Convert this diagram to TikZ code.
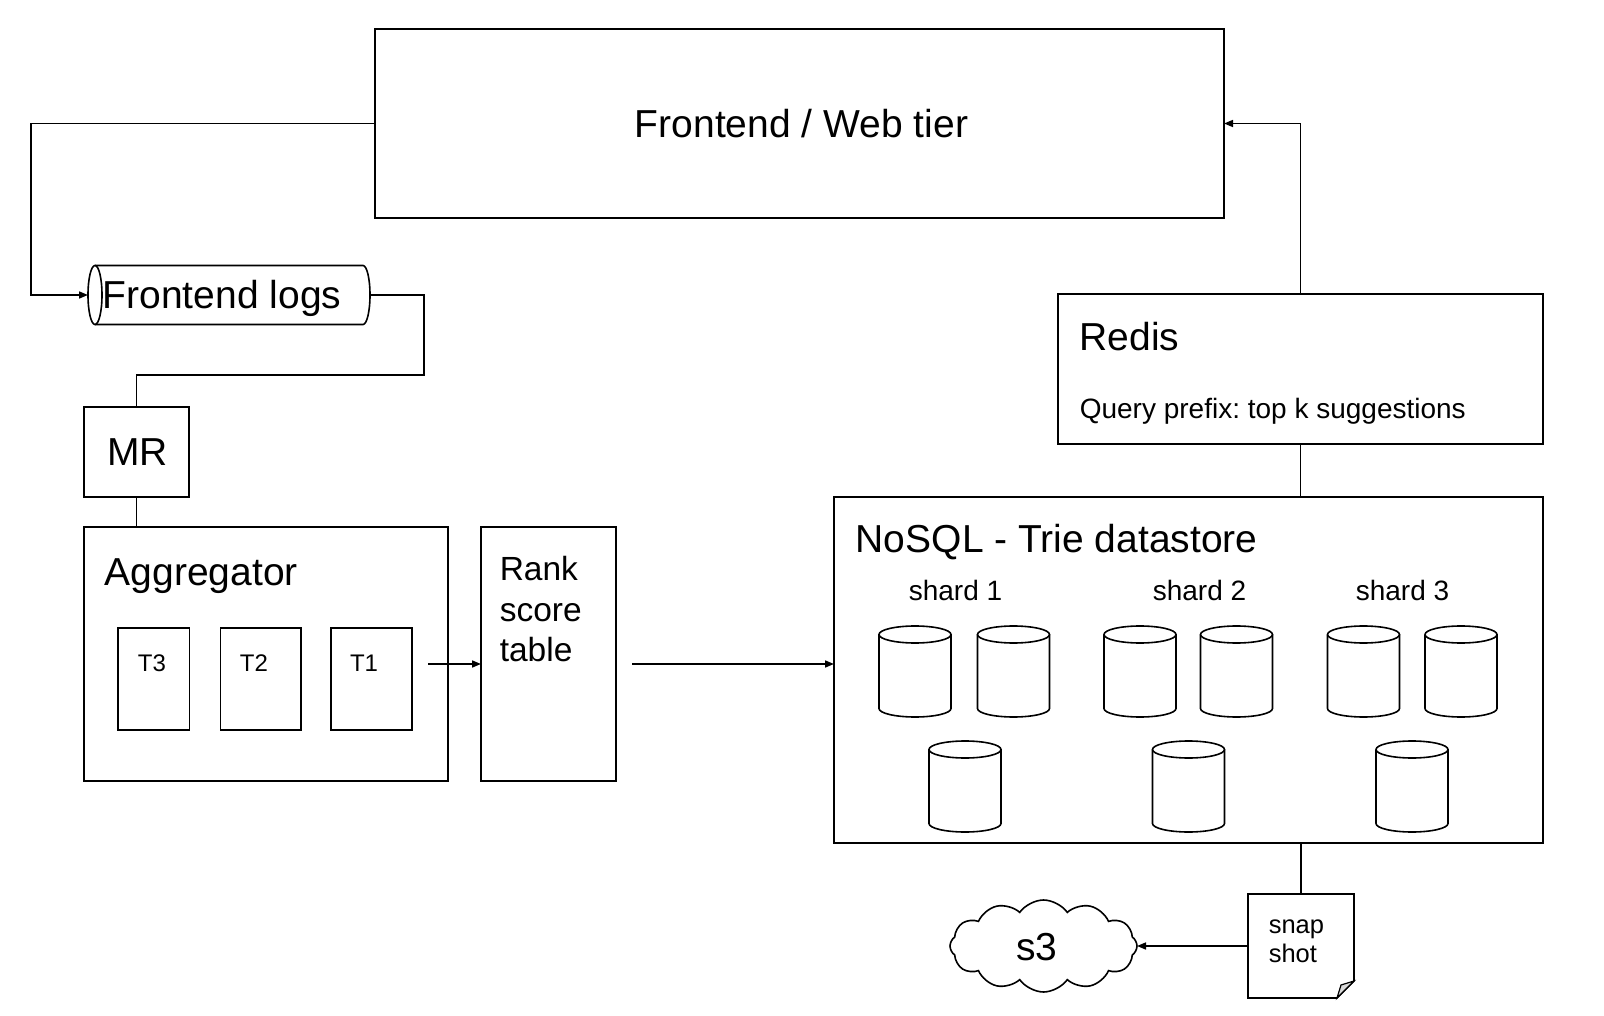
\documentclass[tikz,border=0pt]{standalone}
\usepackage{fontspec}
\setmainfont{Liberation Sans}
\usetikzlibrary{arrows.meta,shapes.symbols}
\frenchspacing
\begin{document}
\begin{tikzpicture}[x=1pt,y=-1pt,
  line width=1.6pt, line join=miter,
  box/.style={draw, rectangle, inner sep=0pt, outer sep=0pt},
  plain/.style={draw=none, rectangle, inner sep=0pt, outer sep=0pt},
  arr/.style={-{Triangle[length=9pt,width=7pt]}},
  big/.style={font=\fontsize{39}{45}\selectfont, inner sep=0pt, anchor=base west},
  mid/.style={font=\fontsize{33.5}{40}\selectfont, inner sep=0pt, anchor=base west},
  small/.style={font=\fontsize{28}{34}\selectfont, inner sep=0pt, anchor=base west},
  tiny/.style={font=\fontsize{25.5}{30}\selectfont, inner sep=0pt, anchor=base west},
  tlab/.style={font=\fontsize{24}{28}\selectfont, inner sep=0pt, anchor=base},
  dbcyl/.pic={
    \draw (-36,-37) -- (-36,37) arc[start angle=180,end angle=0,x radius=36,y radius=8.5] -- (36,-37);
    \draw (0,-37) ellipse[x radius=36,y radius=8.5];
  }
]
\fill[white] (0,0) rectangle (1604,1016);
\useasboundingbox (0,0) rectangle (1604,1016);

% Frontend
\node[box, minimum width=849, minimum height=189] (front) at (799.5,123.5) {};
\node[big, anchor=base] (frontt) at (801.5,138) {Frontend / Web tier};

% Frontend logs (horizontal cylinder)
\node[plain, minimum width=282, minimum height=59] (logs) at (229,295) {};
\draw ([xshift=7pt]logs.north west) -- ([xshift=-7pt]logs.north east)
  arc[start angle=-90,end angle=90,x radius=7,y radius=29.5] -- ([xshift=7pt]logs.south west);
\draw ([xshift=7pt]logs.west) ellipse[x radius=7,y radius=29.5];
\node[big] (logst) at (102,309) {Frontend logs};

% MR
\node[box, minimum width=105, minimum height=90] (mr) at (136.5,452) {};
\node[big, anchor=base] (mrt) at (137.5,465) {MR};

% Aggregator
\node[box, minimum width=364, minimum height=254] (agg) at (266,654) {};
\node[big] (aggt) at (104,585) {Aggregator};
\node[box, minimum width=71.5, minimum height=102] (t3) at (153.75,679) {};
\node[box, minimum width=80.5, minimum height=102] (t2) at (260.75,679) {};
\node[box, minimum width=81, minimum height=102] (t1) at (371.5,679) {};
\node[tlab] (t3t) at (152,671) {T3};
\node[tlab] (t2t) at (254,671) {T2};
\node[tlab] (t1t) at (364,671) {T1};

% Rank score table
\node[box, minimum width=135, minimum height=254] (rank) at (548.5,654) {};
\node[mid] (rank1) at (499,580) {Rank};
\node[mid] (rank2) at (499,621) {score};
\node[mid] (rank3) at (499,661) {table};

% NoSQL
\node[box, minimum width=709, minimum height=346] (nosql) at (1188.5,670) {};
\node[big] (nosqlt) at (855,552) {NoSQL - Trie datastore};
\node[small] (sh1) at (908,600) {shard 1};
\node[small] (sh2) at (1152,600) {shard 2};
\node[small] (sh3) at (1355,600) {shard 3};
\foreach \cx/\cy in {915/671.5,1013.5/671.5,965/786.5,1140/671.5,1236.5/671.5,1188.5/786.5,1363.5/671.5,1461/671.5,1412/786.5}
  \pic at (\cx,\cy) {dbcyl};

% Redis
\node[box, minimum width=485, minimum height=150] (redis) at (1300.5,369) {};
\node[big] (redist) at (1079,350) {Redis};
\node[small] (redisq) at (1079,418) {Query prefix: top k suggestions};

% Snapshot
\node[plain, minimum width=106, minimum height=104] (snap) at (1301,946) {};
\draw (snap.north west) -- (snap.north east) -- ([yshift=17pt]snap.south east)
  -- ([xshift=-17pt]snap.south east) -- (snap.south west) -- cycle;
\draw[fill=black!15, line width=1.2pt] ([yshift=17pt]snap.south east) -- ([xshift=-17pt]snap.south east)
  -- ([xshift=-13pt,yshift=13pt]snap.south east) -- cycle;
\node[tiny] (snap1) at (1268,933) {snap};
\node[tiny] (snap2) at (1268,962) {shot};

% s3 cloud
\node[cloud, draw, cloud puffs=12, cloud puff arc=110, aspect=2, minimum width=187, minimum height=92, inner sep=0pt, outer sep=0pt] (s3) at (1043.5,946) {};
\node[big, anchor=base] (s3t) at (1037,960) {s3};

% Connectors
\draw[arr] (front.west) -- ++(-344,0) |- (logs.west);
\draw (logs.east) -| ++(54,80) -| (mr.north);
\draw (mr.south) -- (mr.south |- agg.north);
\coordinate (a1) at (428,664);
\draw[arr] (a1) -- (a1 -| rank.west);
\coordinate (a2) at (632,664);
\draw[arr] (a2) -- (a2 -| nosql.west);
\draw[arr] (redis.north) |- (front.east);
\draw (redis.south) -- (redis.south |- nosql.north);
\draw (snap.north |- nosql.south) -- (snap.north);
\draw[arr] (snap.west) -- (s3.east);
\end{tikzpicture}
\end{document}
